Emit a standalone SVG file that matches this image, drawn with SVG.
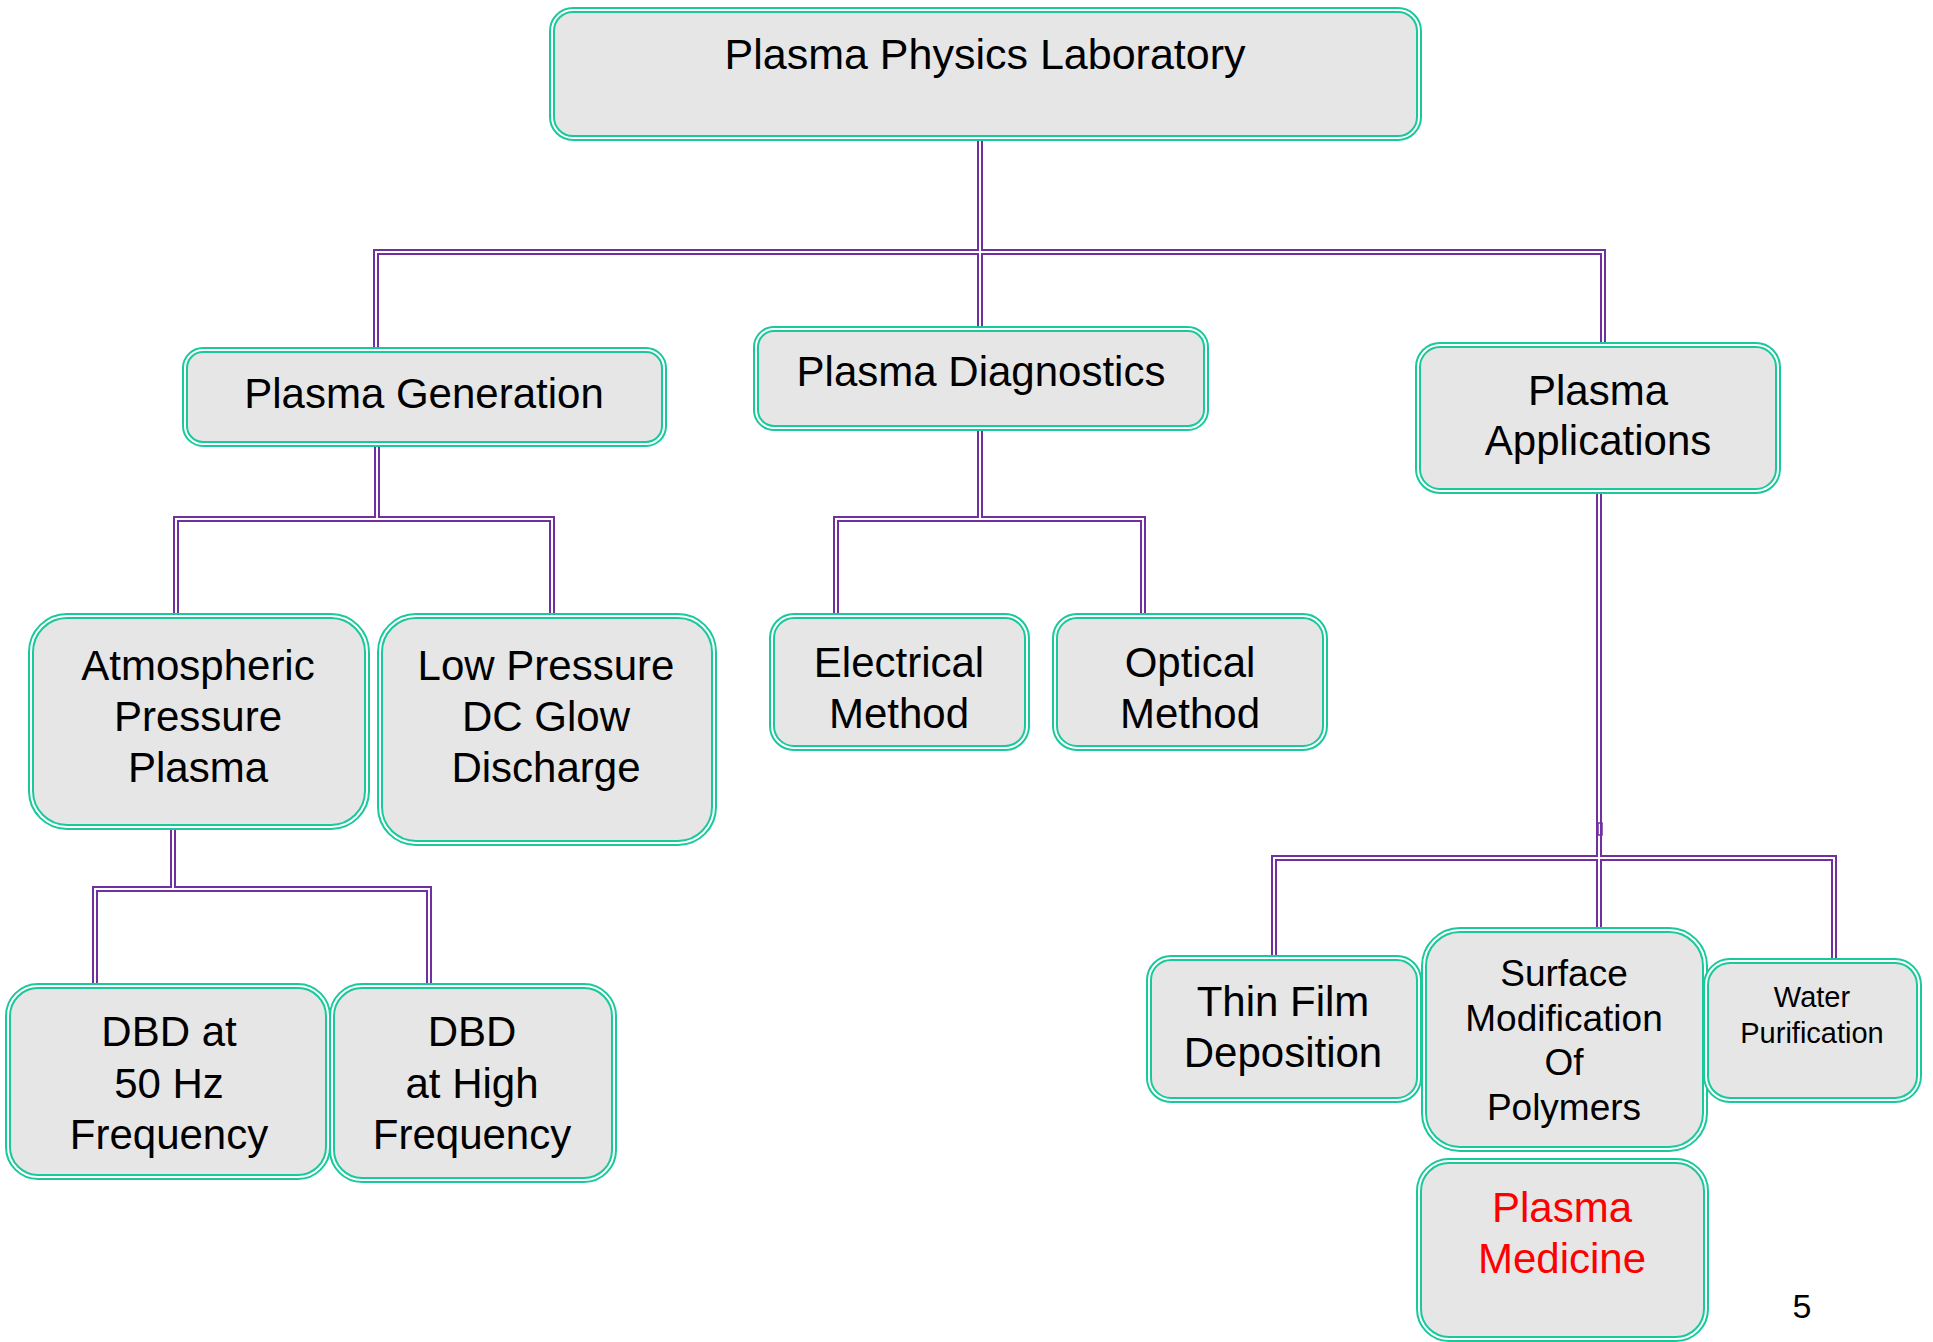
<svg xmlns="http://www.w3.org/2000/svg" width="1933" height="1342" viewBox="0 0 1933 1342">
<style>
.box{fill:#e6e6e6;stroke:#19c99b;stroke-width:6}
.inner{fill:none;stroke:#ffffff;stroke-width:2}
.t{font-family:"Liberation Sans",Arial,sans-serif;font-size:42px;fill:#000;text-anchor:middle}
.t43{font-size:43px}
.t37{font-size:37px}
.t29{font-size:29px}
.t34{font-size:34px}
.red{fill:#ff0000}
.c{fill:none;stroke:#7030a0;stroke-width:6;stroke-linejoin:miter}
.ci{fill:none;stroke:#ffffff;stroke-width:2}
</style>
<rect width="1933" height="1342" fill="#ffffff"/>
<g id="connectors">
  <path class="c" d="M980,139 V252 M376,350 V252 H1603 V345 M980,252 V329"/>
  <path class="c" d="M377,444 V519 M176,616 V519 H552 V616"/>
  <path class="c" d="M980,428 V519 M836,616 V519 H1143 V616"/>
  <path class="c" d="M173,827 V889 M95,986 V889 H429 V986"/>
  <path class="c" d="M1599,491 V931 M1274,958 V858 H1834 V960"/>
  <path class="ci" d="M980,139 V252 M376,350 V252 H1603 V345 M980,252 V329"/>
  <path class="ci" d="M377,444 V519 M176,616 V519 H552 V616"/>
  <path class="ci" d="M980,428 V519 M836,616 V519 H1143 V616"/>
  <path class="ci" d="M173,827 V889 M95,986 V889 H429 V986"/>
  <path class="ci" d="M1599,491 V931 M1274,958 V858 H1834 V960"/>
  <rect x="1598" y="823" width="4" height="12" fill="none" stroke="#7030a0" stroke-width="1.5"/>
</g>
<g id="n-lab">
  <rect class="box" x="552" y="10" width="867" height="128" rx="21"/>
  <rect class="inner" x="552" y="10" width="867" height="128" rx="21"/>
  <text class="t t43" x="985" y="69">Plasma Physics Laboratory</text>
</g>
<g id="n-gen">
  <rect class="box" x="185" y="350" width="479" height="94" rx="18"/>
  <rect class="inner" x="185" y="350" width="479" height="94" rx="18"/>
  <text class="t" x="424" y="408">Plasma Generation</text>
</g>
<g id="n-diag">
  <rect class="box" x="756" y="329" width="450" height="99" rx="18"/>
  <rect class="inner" x="756" y="329" width="450" height="99" rx="18"/>
  <text class="t" x="981" y="386">Plasma Diagnostics</text>
</g>
<g id="n-app">
  <rect class="box" x="1418" y="345" width="360" height="146" rx="22"/>
  <rect class="inner" x="1418" y="345" width="360" height="146" rx="22"/>
  <text class="t" x="1598" y="405">Plasma</text>
  <text class="t" x="1598" y="455">Applications</text>
</g>
<g id="n-atm">
  <rect class="box" x="31" y="616" width="336" height="211" rx="36"/>
  <rect class="inner" x="31" y="616" width="336" height="211" rx="36"/>
  <text class="t" x="198" y="680">Atmospheric</text>
  <text class="t" x="198" y="731">Pressure</text>
  <text class="t" x="198" y="782">Plasma</text>
</g>
<g id="n-low">
  <rect class="box" x="380" y="616" width="334" height="227" rx="36"/>
  <rect class="inner" x="380" y="616" width="334" height="227" rx="36"/>
  <text class="t" x="546" y="680">Low Pressure</text>
  <text class="t" x="546" y="731">DC Glow</text>
  <text class="t" x="546" y="782">Discharge</text>
</g>
<g id="n-elec">
  <rect class="box" x="772" y="616" width="255" height="132" rx="22"/>
  <rect class="inner" x="772" y="616" width="255" height="132" rx="22"/>
  <text class="t" x="899" y="677">Electrical</text>
  <text class="t" x="899" y="728">Method</text>
</g>
<g id="n-opt">
  <rect class="box" x="1055" y="616" width="270" height="132" rx="22"/>
  <rect class="inner" x="1055" y="616" width="270" height="132" rx="22"/>
  <text class="t" x="1190" y="677">Optical</text>
  <text class="t" x="1190" y="728">Method</text>
</g>
<g id="n-dbd50">
  <rect class="box" x="8" y="986" width="320" height="191" rx="30"/>
  <rect class="inner" x="8" y="986" width="320" height="191" rx="30"/>
  <text class="t" x="169" y="1046">DBD at</text>
  <text class="t" x="169" y="1098">50 Hz</text>
  <text class="t" x="169" y="1149">Frequency</text>
</g>
<g id="n-dbdhi">
  <rect class="box" x="332" y="986" width="282" height="194" rx="30"/>
  <rect class="inner" x="332" y="986" width="282" height="194" rx="30"/>
  <text class="t" x="472" y="1046">DBD</text>
  <text class="t" x="472" y="1098">at High</text>
  <text class="t" x="472" y="1149">Frequency</text>
</g>
<g id="n-thin">
  <rect class="box" x="1149" y="958" width="270" height="142" rx="22"/>
  <rect class="inner" x="1149" y="958" width="270" height="142" rx="22"/>
  <text class="t" x="1283" y="1016">Thin Film</text>
  <text class="t" x="1283" y="1067">Deposition</text>
</g>
<g id="n-surf">
  <rect class="box" x="1424" y="930" width="281" height="219" rx="36"/>
  <rect class="inner" x="1424" y="930" width="281" height="219" rx="36"/>
  <text class="t t37" x="1564" y="986">Surface</text>
  <text class="t t37" x="1564" y="1031">Modification</text>
  <text class="t t37" x="1564" y="1075">Of</text>
  <text class="t t37" x="1564" y="1120">Polymers</text>
</g>
<g id="n-water">
  <rect class="box" x="1706" y="961" width="213" height="139" rx="24"/>
  <rect class="inner" x="1706" y="961" width="213" height="139" rx="24"/>
  <text class="t t29" x="1812" y="1007">Water</text>
  <text class="t t29" x="1812" y="1043">Purification</text>
</g>
<g id="n-med">
  <rect class="box" x="1419" y="1161" width="287" height="178" rx="30"/>
  <rect class="inner" x="1419" y="1161" width="287" height="178" rx="30"/>
  <text class="t red" x="1562" y="1222">Plasma</text>
  <text class="t red" x="1562" y="1273">Medicine</text>
</g>
<text class="t t34" x="1802" y="1318">5</text>
</svg>
